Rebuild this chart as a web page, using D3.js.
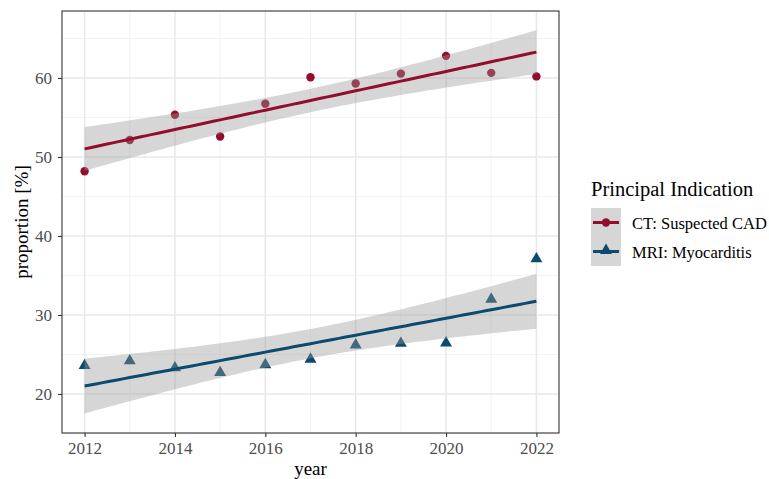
<!DOCTYPE html>
<html>
<head>
<meta charset="utf-8">
<script src="https://cdn.jsdelivr.net/npm/d3@7"></script>
<style>
  html, body { margin: 0; padding: 0; background: #fff; }
  svg { display: block; }
  text { font-family: "Liberation Serif", "DejaVu Serif", serif; }
</style>
</head>
<body>
<svg id="chart" width="769" height="479"></svg>
<script>
// ---- data ----
const years = [2012, 2013, 2014, 2015, 2016, 2017, 2018, 2019, 2020, 2021, 2022];
const ctSuspectedCAD = [48.2, 52.15, 55.35, 52.6, 56.75, 60.1, 59.3, 60.55, 62.8, 60.65, 60.2];
const mriMyocarditis = [23.6, 24.2, 23.3, 22.7, 23.7, 24.4, 26.2, 26.4, 26.45, 32.0, 37.1];
const seriesNames = ["CT: Suspected CAD", "MRI: Myocarditis"];
const seriesColors = ["#930d2c", "#0c4a6e"];
const xTicks = [2012, 2014, 2016, 2018, 2020, 2022];
const yTicks = [20, 30, 40, 50, 60];
const legendTitle = "Principal Indication";
const xTitle = "year";
const yTitle = "proportion [%]";

const series = [
  { name: seriesNames[0], values: ctSuspectedCAD, color: seriesColors[0], shape: "circle" },
  { name: seriesNames[1], values: mriMyocarditis, color: seriesColors[1], shape: "triangle" }
];

// ---- layout ----
const panel = { left: 62, right: 559, top: 11, bottom: 433 };
const svg = d3.select("#chart");

const x = d3.scaleLinear().domain([2011.5, 2022.5]).range([panel.left, panel.right]);
const y = d3.scaleLinear().domain([15.06, 68.48]).range([panel.bottom, panel.top]);

// ---- linear fit + 95% CI (geom_smooth(method="lm")) ----
function lmFit(xs, ys) {
  const n = xs.length;
  const mx = d3.mean(xs), my = d3.mean(ys);
  let sxx = 0, sxy = 0;
  xs.forEach((xi, i) => { sxx += (xi - mx) ** 2; sxy += (xi - mx) * (ys[i] - my); });
  const b = sxy / sxx, a = my - b * mx;
  let sse = 0;
  xs.forEach((xi, i) => { sse += (ys[i] - (a + b * xi)) ** 2; });
  const s = Math.sqrt(sse / (n - 2));
  const t = 2.262157; // qt(0.975, 9)
  const grid = d3.range(0, 81).map(k => xs[0] + (xs[n - 1] - xs[0]) * k / 80);
  return grid.map(gx => {
    const fit = a + b * gx;
    const se = s * Math.sqrt(1 / n + (gx - mx) ** 2 / sxx);
    return { x: gx, fit, lo: fit - t * se, hi: fit + t * se };
  });
}

// ---- panel background & grid ----
const g = svg.append("g");
g.append("rect").attr("x", panel.left).attr("y", panel.top)
  .attr("width", panel.right - panel.left).attr("height", panel.bottom - panel.top)
  .attr("fill", "#fff");

const minorX = d3.range(2013, 2022, 2);
const minorY = [15, 25, 35, 45, 55, 65];
g.selectAll(".minx").data(minorX).join("line")
  .attr("x1", d => x(d)).attr("x2", d => x(d))
  .attr("y1", panel.top).attr("y2", panel.bottom)
  .attr("stroke", "#f0f0f0").attr("stroke-width", 0.8);
g.selectAll(".miny").data(minorY).join("line")
  .attr("y1", d => y(d)).attr("y2", d => y(d))
  .attr("x1", panel.left).attr("x2", panel.right)
  .attr("stroke", "#f0f0f0").attr("stroke-width", 0.8);
g.selectAll(".majx").data(xTicks).join("line")
  .attr("x1", d => x(d)).attr("x2", d => x(d))
  .attr("y1", panel.top).attr("y2", panel.bottom)
  .attr("stroke", "#e8e8e8").attr("stroke-width", 1.5);
g.selectAll(".majy").data(yTicks).join("line")
  .attr("y1", d => y(d)).attr("y2", d => y(d))
  .attr("x1", panel.left).attr("x2", panel.right)
  .attr("stroke", "#e8e8e8").attr("stroke-width", 1.5);

// ---- points (drawn under smooth band) ----
const tri = d3.symbol().type(d3.symbolTriangle).size(62);
series.forEach(s => {
  const pts = years.map((yr, i) => ({ x: yr, v: s.values[i] }));
  if (s.shape === "circle") {
    g.selectAll(null).data(pts).join("circle")
      .attr("cx", d => x(d.x)).attr("cy", d => y(d.v)).attr("r", 4.2)
      .attr("fill", s.color);
  } else {
    g.selectAll(null).data(pts).join("path")
      .attr("d", tri)
      .attr("transform", d => `translate(${x(d.x)},${y(d.v)})`)
      .attr("fill", s.color);
  }
});

// ---- smooth bands and lines ----
series.forEach(s => {
  const fit = lmFit(years, s.values);
  g.append("path").datum(fit)
    .attr("d", d3.area().x(d => x(d.x)).y0(d => y(d.lo)).y1(d => y(d.hi)))
    .attr("fill", "#999999").attr("fill-opacity", 0.4);
  g.append("path").datum(fit)
    .attr("d", d3.line().x(d => x(d.x)).y(d => y(d.fit)))
    .attr("fill", "none").attr("stroke", s.color).attr("stroke-width", 3);
});

// ---- panel border ----
g.append("rect").attr("x", panel.left).attr("y", panel.top)
  .attr("width", panel.right - panel.left).attr("height", panel.bottom - panel.top)
  .attr("fill", "none").attr("stroke", "#333").attr("stroke-width", 1.1);

// ---- axes ----
const xAxis = svg.append("g").attr("transform", `translate(0,${panel.bottom})`)
  .call(d3.axisBottom(x).tickValues(xTicks).tickFormat(d3.format("d")).tickSize(4).tickPadding(5));
const yAxis = svg.append("g").attr("transform", `translate(${panel.left},0)`)
  .call(d3.axisLeft(y).tickValues(yTicks).tickSize(4).tickPadding(6));
[xAxis, yAxis].forEach(ax => {
  ax.select(".domain").remove();
  ax.selectAll(".tick line").attr("stroke", "#333").attr("stroke-width", 1.1);
  ax.selectAll(".tick text").attr("fill", "#4d4d4d")
    .style("font-family", "'Liberation Serif', serif").style("font-size", "17px");
});

// ---- axis titles ----
svg.append("text").attr("x", (panel.left + panel.right) / 2).attr("y", 475)
  .attr("text-anchor", "middle").attr("fill", "#000").style("font-size", "19px").text(xTitle);
svg.append("text").attr("transform", `translate(28,${(panel.top + panel.bottom) / 2}) rotate(-90)`)
  .attr("text-anchor", "middle").attr("fill", "#000").style("font-size", "19px").text(yTitle);

// ---- legend ----
const lg = svg.append("g").attr("transform", "translate(591,0)");
lg.append("text").attr("x", 0).attr("y", 196).attr("fill", "#000")
  .style("font-size", "20.5px").text(legendTitle);
const keyH = 29;
series.forEach((s, i) => {
  const top = 208 + i * keyH;
  const cy = top + keyH / 2;
  lg.append("rect").attr("x", 0).attr("y", top).attr("width", 30).attr("height", keyH)
    .attr("fill", "#d6d6d6");
  lg.append("line").attr("x1", 2).attr("x2", 28).attr("y1", cy).attr("y2", cy)
    .attr("stroke", s.color).attr("stroke-width", 3);
  if (s.shape === "circle") {
    lg.append("circle").attr("cx", 15).attr("cy", cy).attr("r", 4.2).attr("fill", s.color);
  } else {
    lg.append("path").attr("d", tri).attr("transform", `translate(15,${cy - 1})`).attr("fill", s.color);
  }
  lg.append("text").attr("x", 41).attr("y", cy + 6.5).attr("fill", "#000")
    .style("font-size", "16.5px").text(s.name);
});
</script>
</body>
</html>
